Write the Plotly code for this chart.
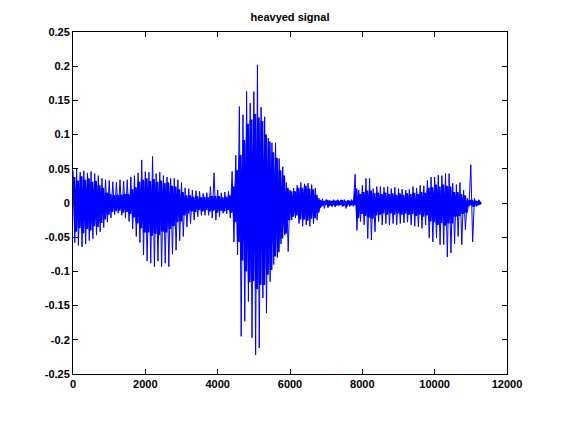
import plotly.graph_objects as go

# Waveform envelope, one entry per 100-sample bin
bin_size = 100
peak_hi = [0.048, 0.050, 0.045, 0.047, 0.044, 0.046, 0.043, 0.040, 0.036, 0.034,
           0.033, 0.031, 0.030, 0.034, 0.032, 0.034, 0.038, 0.040, 0.044, 0.063,
           0.046, 0.045, 0.068, 0.043, 0.045, 0.040, 0.038, 0.036, 0.036, 0.034,
           0.030, 0.022, 0.021, 0.019, 0.018, 0.017, 0.014, 0.015, 0.024, 0.044,
           0.019, 0.015, 0.016, 0.017, 0.046, 0.070, 0.141, 0.129, 0.163, 0.146,
           0.163, 0.202, 0.140, 0.126, 0.095, 0.088, 0.088, 0.065, 0.053, 0.030,
           0.019, 0.022, 0.026, 0.030, 0.028, 0.029, 0.027, 0.022, 0.007, 0.006,
           0.005, 0.004, 0.005, 0.004, 0.004, 0.005, 0.004, 0.005, 0.042, 0.019,
           0.026, 0.036, 0.036, 0.021, 0.024, 0.024, 0.023, 0.024, 0.021, 0.023,
           0.021, 0.020, 0.019, 0.020, 0.024, 0.022, 0.026, 0.025, 0.033, 0.038,
           0.038, 0.041, 0.040, 0.043, 0.043, 0.029, 0.027, 0.030, 0.019, 0.007,
           0.056, 0.007, 0.003]
peak_lo = [-0.058, -0.062, -0.064, -0.060, -0.055, -0.052, -0.047, -0.042, -0.036, -0.028,
           -0.022, -0.017, -0.015, -0.018, -0.022, -0.027, -0.038, -0.049, -0.058, -0.076,
           -0.085, -0.088, -0.093, -0.085, -0.093, -0.088, -0.093, -0.075, -0.069, -0.055,
           -0.049, -0.035, -0.030, -0.025, -0.020, -0.018, -0.018, -0.018, -0.022, -0.025,
           -0.020, -0.015, -0.016, -0.022, -0.057, -0.076, -0.195, -0.173, -0.144, -0.197,
           -0.222, -0.212, -0.139, -0.161, -0.115, -0.090, -0.080, -0.060, -0.047, -0.071,
           -0.025, -0.022, -0.030, -0.034, -0.032, -0.034, -0.030, -0.025, -0.007, -0.008,
           -0.007, -0.005, -0.006, -0.004, -0.005, -0.008, -0.005, -0.005, -0.040, -0.027,
           -0.032, -0.052, -0.054, -0.042, -0.027, -0.032, -0.030, -0.032, -0.030, -0.032,
           -0.030, -0.029, -0.028, -0.032, -0.034, -0.035, -0.037, -0.032, -0.051, -0.057,
           -0.051, -0.061, -0.061, -0.079, -0.073, -0.060, -0.049, -0.061, -0.039, -0.005,
           -0.057, -0.005, -0.002]
core_hi = [0.038, 0.033, 0.039, 0.034, 0.036, 0.031, 0.032, 0.026, 0.022, 0.015,
           0.013, 0.011, 0.012, 0.012, 0.013, 0.013, 0.020, 0.023, 0.031, 0.034,
           0.036, 0.032, 0.035, 0.031, 0.033, 0.029, 0.030, 0.025, 0.024, 0.020,
           0.016, 0.011, 0.011, 0.009, 0.010, 0.008, 0.009, 0.008, 0.010, 0.010,
           0.010, 0.008, 0.009, 0.011, 0.024, 0.048, 0.070, 0.092, 0.116, 0.122,
           0.130, 0.125, 0.120, 0.100, 0.090, 0.074, 0.066, 0.048, 0.040, 0.022,
           0.017, 0.017, 0.022, 0.022, 0.025, 0.021, 0.020, 0.012, 0.004, 0.002,
           0.004, 0.002, 0.003, 0.002, 0.004, 0.002, 0.003, 0.003, 0.021, 0.013,
           0.016, 0.018, 0.018, 0.014, 0.015, 0.013, 0.015, 0.013, 0.014, 0.012,
           0.014, 0.012, 0.014, 0.013, 0.015, 0.013, 0.016, 0.015, 0.022, 0.023,
           0.027, 0.024, 0.027, 0.025, 0.024, 0.016, 0.016, 0.013, 0.011, 0.004,
           0.004, 0.003, 0.002]
core_lo = [-0.042, -0.037, -0.044, -0.038, -0.040, -0.034, -0.035, -0.029, -0.024, -0.017,
           -0.013, -0.012, -0.011, -0.014, -0.013, -0.016, -0.021, -0.030, -0.037, -0.043,
           -0.043, -0.048, -0.045, -0.047, -0.042, -0.043, -0.038, -0.034, -0.028, -0.027,
           -0.018, -0.015, -0.012, -0.013, -0.010, -0.012, -0.010, -0.012, -0.011, -0.014,
           -0.011, -0.012, -0.010, -0.014, -0.028, -0.057, -0.084, -0.100, -0.116, -0.114,
           -0.126, -0.120, -0.120, -0.105, -0.098, -0.078, -0.072, -0.052, -0.045, -0.025,
           -0.020, -0.018, -0.024, -0.024, -0.026, -0.023, -0.022, -0.014, -0.004, -0.002,
           -0.004, -0.002, -0.003, -0.002, -0.004, -0.002, -0.003, -0.003, -0.022, -0.016,
           -0.019, -0.021, -0.023, -0.018, -0.017, -0.015, -0.017, -0.015, -0.017, -0.015,
           -0.017, -0.015, -0.017, -0.016, -0.019, -0.017, -0.020, -0.018, -0.027, -0.028,
           -0.032, -0.029, -0.033, -0.030, -0.030, -0.020, -0.019, -0.016, -0.014, -0.003,
           -0.005, -0.003, -0.002]

x_ticks = [0, 2000, 4000, 6000, 8000, 10000, 12000]
x_tick_labels = ["0", "2000", "4000", "6000", "8000", "10000", "12000"]
y_ticks = [0.25, 0.2, 0.15, 0.1, 0.05, 0, -0.05, -0.1, -0.15, -0.2, -0.25]
y_tick_labels = ["0.25", "0.2", "0.15", "0.1", "0.05", "0", "-0.05", "-0.1", "-0.15", "-0.2", "-0.25"]
title_text = "heavyed signal"

n = len(peak_hi)
q = bin_size / 4

# Solid body: thick zig-zag through each bin's core extent
cx, cy = [], []
for i in range(n):
    x0 = i * bin_size
    cx += [x0 + q, x0 + 3 * q]
    cy += [core_hi[i], core_lo[i]]

# Spikes: thin zig-zag through each bin's extremes
xs, ys = [], []
for i in range(n):
    x0 = i * bin_size
    xs += [x0, x0 + 2 * q]
    ys += [peak_hi[i], peak_lo[i]]

fig = go.Figure()
fig.add_trace(go.Scatter(x=cx, y=cy, mode="lines",
                         line=dict(color="#0000ff", width=2.8), hoverinfo="skip"))
fig.add_trace(go.Scatter(x=xs, y=ys, mode="lines",
                         line=dict(color="#0000ff", width=1), hoverinfo="skip"))

# page body has an 8px margin; figure sized so the plot area lands at x 73-507, y 32-374
W, H = 545, 405
axis_font = dict(family="Liberation Sans, Arial, sans-serif", size=11, color="black", weight="bold")
fig.update_layout(
    width=W, height=H,
    margin=dict(l=65, r=46, t=24, b=39),
    paper_bgcolor="white", plot_bgcolor="white",
    showlegend=False,
    title=dict(text=title_text, x=0.5, xref="paper", xanchor="center",
               y=1 - 9 / H, yanchor="middle", yref="container",
               font=dict(family="Liberation Sans, Arial, sans-serif", size=11, color="black", weight="bold")),
)
fig.update_xaxes(range=[0, 12000], tickvals=x_ticks, ticktext=x_tick_labels,
                 ticks="inside", ticklen=5, tickcolor="black", showline=True,
                 linecolor="black", linewidth=1, mirror="ticks", showgrid=False,
                 zeroline=False, tickfont=axis_font)
fig.update_yaxes(range=[-0.25, 0.25], tickvals=y_ticks, ticktext=y_tick_labels,
                 ticks="inside", ticklen=5, tickcolor="black", showline=True,
                 linecolor="black", linewidth=1, mirror="ticks", showgrid=False,
                 zeroline=False, tickfont=axis_font)

fig.write_html("out.html")
